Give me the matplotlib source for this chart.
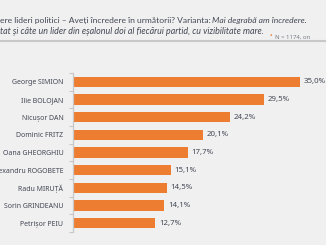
import matplotlib
matplotlib.use("Agg")
import matplotlib.pyplot as plt
import numpy as np

# data
names = ["George SIMION", "Ilie BOLOJAN", "Nicușor DAN", "Dominic FRITZ", "Oana GHEORGHIU",
         "Alexandru ROGOBETE", "Radu MIRUȚĂ", "Sorin GRINDEANU", "Petrișor PEIU"]
values = [35.0, 29.5, 24.2, 20.1, 17.7, 15.1, 14.5, 14.1, 12.7]
value_labels = ["35,0%", "29,5%", "24,2%", "20,1%", "17,7%", "15,1%", "14,5%", "14,1%", "12,7%"]

title_plain = "ere lideri politici – Aveți încredere în următorii? Varianta: "
title_italic = "Mai degrabă am încredere."
subtitle = "tat și câte un lider din eșalonul doi al fiecărui partid, cu vizibilitate mare."
note = "N = 1174, on"

bg = "#f0f0f0"
orange = "#ed7d31"
text_col = "#434854"

plt.rcParams['font.family'] = ['Noto Sans', 'DejaVu Sans']

W, H = 326, 245
fig = plt.figure(figsize=(W / 100, H / 100), dpi=100, facecolor=bg)
renderer = fig.canvas.get_renderer()


def width_at10(txt, **kw):
    t = fig.text(0, 0, txt, fontsize=10, **kw)
    w = t.get_window_extent(renderer).width
    t.remove()
    return w


name_fs = 10 * 52 / width_at10("George SIMION")
val_fs = 10 * 22 / width_at10("35,0%")
sub_fs = 10 * 263 / width_at10(subtitle, family='Lato', style='italic')
line1_w = width_at10(title_plain, family='Lato') + width_at10(title_italic, family='Lato', style='italic')
head_fs = 10 * 308 / line1_w

# axes placed in pixel terms
ax_l, ax_r, ax_top, ax_bot = 73, 326, 73, 232
ax = fig.add_axes([ax_l / W, 1 - ax_bot / H, (ax_r - ax_l) / W, (ax_bot - ax_top) / H])
ax.set_facecolor(bg)

y = np.arange(len(names))
ax.barh(y, values, height=0.6, color=orange)
ax.set_ylim(len(names) - 0.5, -0.5)
ax.set_xlim(0, 39.0)

for yi, v, lab in zip(y, values, value_labels):
    ax.text(v + 0.55, yi, lab, va='center', ha='left', fontsize=val_fs, color=text_col)

ax.set_yticks(y)
ax.set_yticklabels(names, fontsize=name_fs, color=text_col)
ax.tick_params(axis='y', which='major', length=0, pad=7)
ax.set_yticks(np.arange(-0.5, len(names), 1.0), minor=True)
ax.tick_params(axis='y', which='minor', length=3, color='#c8c8c8', width=0.8)
ax.set_xticks([])
for s in ['top', 'right', 'bottom']:
    ax.spines[s].set_visible(False)
ax.spines['left'].set_color('#c8c8c8')
ax.spines['left'].set_linewidth(0.9)

# header text
t1 = fig.text(-0.5 / W, 1 - 20 / H, title_plain, fontsize=head_fs, family='Lato',
              color=text_col, va='center', ha='left')
bb = t1.get_window_extent(renderer)
fig.text(bb.x1 / W, 1 - 20 / H, title_italic, fontsize=head_fs, family='Lato', color=text_col,
         va='center', ha='left', style='italic')
fig.text(-0.5 / W, 1 - 31.5 / H, subtitle, fontsize=sub_fs, family='Lato', color=text_col,
         va='center', ha='left', style='italic')

# separator line
fig.add_artist(plt.Line2D([0, 1], [1 - 41 / H, 1 - 41 / H], color='#c8c8c8', lw=1.5,
                          transform=fig.transFigure))

# sample size note
fig.text(271 / W, 1 - 37 / H, "•", fontsize=5, color=orange, va='center', ha='center')
fig.text(275 / W, 1 - 37 / H, note, fontsize=4.3, color='#7a7f88', va='center', ha='left')

fig.savefig("out.png", dpi=100, facecolor=bg)
